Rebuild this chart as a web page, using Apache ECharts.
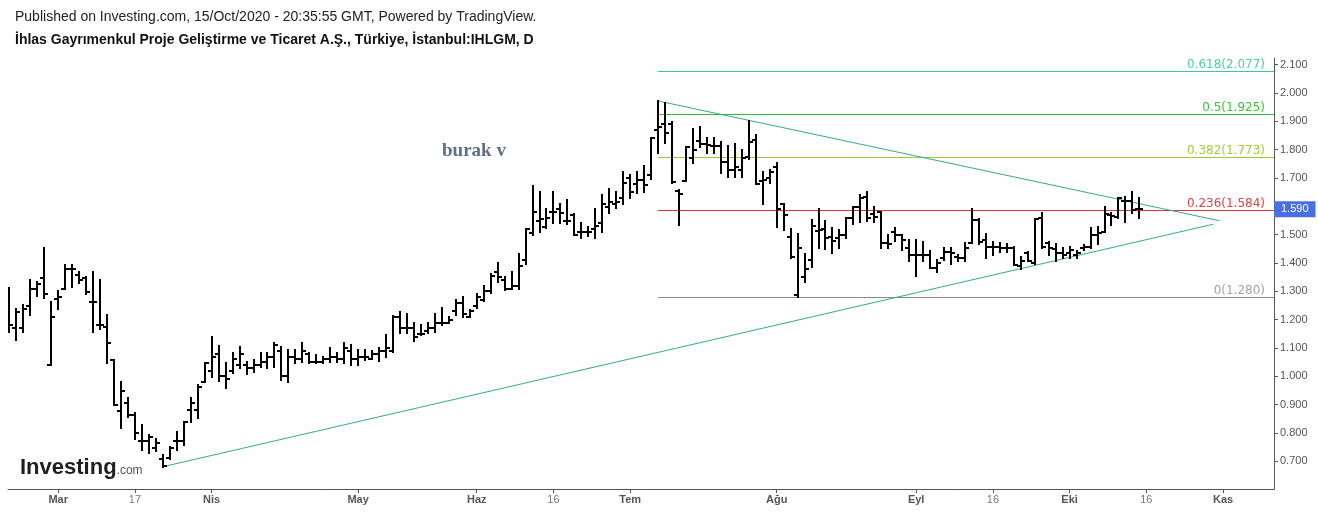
<!DOCTYPE html>
<html><head><meta charset="utf-8">
<script src="https://cdn.jsdelivr.net/npm/echarts@6/dist/echarts.min.js"></script>
<style>html,body{margin:0;padding:0;background:#fff}#c{width:1318px;height:513px}</style>
</head><body><div id="c"></div>
<script>
// ---- data ----
const dates = [
'02-20','02-21','02-24','02-25','02-26','02-27','02-28',
'03-02','03-03','03-04','03-05','03-06','03-09','03-10','03-11','03-12','03-13','03-16','03-17','03-18','03-19','03-20','03-23','03-24','03-25','03-26','03-27','03-30','03-31',
'04-01','04-02','04-03','04-06','04-07','04-08','04-09','04-10','04-13','04-14','04-15','04-16','04-17','04-20','04-21','04-22','04-24','04-27','04-28','04-29','04-30',
'05-04','05-05','05-06','05-07','05-08','05-11','05-12','05-13','05-14','05-15','05-18','05-20','05-21','05-22','05-27','05-28','05-29',
'06-01','06-02','06-03','06-04','06-05','06-08','06-09','06-10','06-11','06-12','06-15','06-16','06-17','06-18','06-19','06-22','06-23','06-24','06-25','06-26','06-29','06-30',
'07-01','07-02','07-03','07-06','07-07','07-08','07-09','07-10','07-13','07-14','07-16','07-17','07-20','07-21','07-22','07-23','07-24','07-27','07-28','07-29','07-30',
'08-04','08-05','08-06','08-07','08-10','08-11','08-12','08-13','08-14','08-17','08-18','08-19','08-20','08-21','08-24','08-25','08-26','08-27','08-28','08-31',
'09-01','09-02','09-03','09-04','09-07','09-08','09-09','09-10','09-11','09-14','09-15','09-16','09-17','09-18','09-21','09-22','09-23','09-24','09-25','09-28','09-29','09-30',
'10-01','10-02','10-05','10-06','10-07','10-08','10-09','10-12','10-13','10-14','10-15'
];
const opens = [
1.25,1.169,1.169,1.248,1.31,1.348,1.04,
1.272,1.31,1.38,1.358,1.346,1.264,1.18,1.175,1.058,0.878,0.905,0.864,0.773,0.773,0.746,0.707,0.713,0.77,0.77,0.881,0.881,0.979,
1.02,1.08,1.00,1.02,1.04,1.04,1.03,1.04,1.05,1.07,1.09,1.00,1.07,1.06,1.08,1.05,1.05,1.06,1.07,1.06,1.09,
1.06,1.07,1.06,1.08,1.09,1.09,1.21,1.17,1.17,1.15,1.16,1.17,1.19,1.19,1.23,1.26,1.21,
1.25,1.27,1.30,1.37,1.34,1.31,1.32,1.41,1.505,1.55,1.528,1.58,1.59,1.55,1.57,1.51,1.51,1.52,1.54,1.599,1.61,1.628,
1.70,1.68,1.693,1.71,1.87,1.89,1.89,1.655,1.69,1.77,1.83,1.82,1.813,1.813,1.758,1.728,1.728,1.775,1.836,1.69,1.70,
1.74,1.608,1.493,1.287,1.35,1.41,1.514,1.52,1.493,1.487,1.50,1.56,1.599,1.634,1.572,1.579,1.47,1.51,1.499,1.452,
1.428,1.428,1.428,1.381,1.419,1.44,1.422,1.419,1.469,1.552,1.481,1.458,1.458,1.452,1.454,1.39,1.434,1.40,1.56,1.47,1.45,1.434,
1.434,1.428,1.454,1.458,1.499,1.508,1.57,1.563,1.62,1.62,1.59
];
const highs = [
1.311,1.236,1.252,1.34,1.334,1.452,1.264,
1.301,1.393,1.393,1.37,1.352,1.37,1.34,1.216,1.058,0.981,0.922,0.869,0.828,0.793,0.778,0.721,0.749,0.802,0.84,0.922,0.969,1.048,
1.14,1.108,1.046,1.081,1.102,1.052,1.058,1.081,1.083,1.119,1.105,1.093,1.093,1.119,1.081,1.075,1.069,1.099,1.081,1.119,1.111,
1.093,1.093,1.09,1.10,1.146,1.213,1.228,1.22,1.187,1.181,1.19,1.22,1.24,1.211,1.269,1.281,1.234,
1.291,1.319,1.36,1.399,1.352,1.369,1.432,1.519,1.673,1.65,1.591,1.65,1.607,1.622,1.573,1.54,1.528,1.591,1.64,1.66,1.652,1.72,
1.711,1.722,1.744,1.84,1.972,1.964,1.899,1.658,1.81,1.872,1.879,1.84,1.84,1.828,1.813,1.82,1.799,1.902,1.852,1.722,1.73,
1.752,1.61,1.519,1.502,1.432,1.552,1.589,1.549,1.522,1.516,1.56,1.599,1.64,1.652,1.599,1.579,1.499,1.522,1.50,1.481,
1.481,1.475,1.442,1.41,1.454,1.454,1.428,1.469,1.59,1.555,1.501,1.475,1.47,1.466,1.458,1.422,1.44,1.555,1.575,1.475,1.466,1.454,
1.458,1.442,1.464,1.522,1.528,1.599,1.575,1.628,1.634,1.649,1.631
];
const lows = [
1.155,1.128,1.158,1.216,1.285,1.275,1.04,
1.236,1.307,1.316,1.331,1.291,1.158,1.166,1.046,0.899,0.816,0.858,0.778,0.74,0.731,0.738,0.681,0.707,0.74,0.758,0.84,0.852,0.979,
0.999,0.985,0.958,1.011,1.028,1.008,1.016,1.034,1.028,1.034,0.987,0.981,1.046,1.052,1.046,1.046,1.046,1.052,1.052,1.046,1.04,
1.04,1.058,1.06,1.055,1.07,1.086,1.154,1.154,1.126,1.146,1.154,1.158,1.181,1.189,1.217,1.208,1.208,
1.24,1.267,1.295,1.334,1.305,1.307,1.307,1.397,1.499,1.508,1.522,1.54,1.54,1.537,1.499,1.487,1.497,1.487,1.51,1.575,1.595,1.607,
1.628,1.646,1.652,1.697,1.787,1.822,1.681,1.535,1.69,1.754,1.808,1.787,1.787,1.716,1.705,1.705,1.705,1.766,1.679,1.608,1.683,
1.526,1.516,1.416,1.28,1.334,1.387,1.452,1.448,1.436,1.454,1.487,1.537,1.546,1.548,1.544,1.454,1.452,1.478,1.446,1.407,
1.355,1.407,1.381,1.367,1.41,1.395,1.407,1.407,1.469,1.466,1.417,1.428,1.44,1.44,1.393,1.379,1.407,1.395,1.454,1.428,1.407,1.419,
1.419,1.419,1.446,1.452,1.466,1.508,1.534,1.558,1.546,1.575,1.56
];
const closes = [
1.181,1.228,1.238,1.307,1.325,1.29,1.208,
1.281,1.378,1.378,1.34,1.299,1.264,1.181,1.119,0.899,0.948,0.864,0.799,0.773,0.785,0.763,0.684,0.746,0.77,0.84,0.905,0.963,1.046,
1.07,1.00,0.99,1.06,1.08,1.03,1.04,1.05,1.07,1.11,1.00,1.07,1.06,1.09,1.05,1.05,1.06,1.07,1.06,1.10,1.06,
1.07,1.07,1.08,1.09,1.10,1.21,1.17,1.17,1.14,1.15,1.17,1.19,1.19,1.20,1.26,1.22,1.23,
1.28,1.30,1.355,1.35,1.31,1.32,1.39,1.52,1.579,1.555,1.56,1.58,1.575,1.55,1.50,1.51,1.51,1.53,1.607,1.617,1.614,1.681,
1.652,1.693,1.675,1.84,1.88,1.86,1.685,1.645,1.81,1.80,1.82,1.816,1.813,1.758,1.728,1.738,1.77,1.828,1.679,1.693,1.72,
1.59,1.569,1.42,1.452,1.38,1.53,1.516,1.49,1.479,1.50,1.56,1.599,1.628,1.558,1.563,1.469,1.466,1.499,1.481,1.428,
1.43,1.428,1.384,1.399,1.44,1.434,1.417,1.454,1.552,1.475,1.458,1.458,1.454,1.452,1.393,1.407,1.407,1.555,1.458,1.452,1.434,1.428,
1.446,1.434,1.458,1.499,1.505,1.572,1.567,1.628,1.62,1.587,1.59
];
// x-axis tick positions (bar index) and labels
const tickIndex = [7, 18, 29, 50, 67, 78, 89, 110, 130, 141, 152, 163, 174];
const tickLabels = ['Mar','17','Nis','May','Haz','16','Tem','Ağu','Eyl','16','Eki','16','Kas'];
const tickIsMonth = [1,0,1,1,1,0,1,1,1,0,1,0,1];
const yTicks = [0.7,0.8,0.9,1.0,1.1,1.2,1.3,1.4,1.5,1.7,1.8,1.9,2.0,2.1];
// fibonacci retracement
const fibLevels = [0, 0.236, 0.382, 0.5, 0.618];
const fibPrices = [1.280, 1.584, 1.773, 1.925, 2.077];
const fibStartIndex = 93;
// triangle trend lines [index, price]
const upperTrend = [[93, 1.972], [173.5, 1.549]];
const lowerTrend = [[22, 0.681], [172.6, 1.537]];
const lastPrice = 1.590;

// ---- chart ----
const X_MIN = -0.2, X_MAX = 181.3;
const fibTextColors = ['#a3a3a3', '#dc4343', '#a2cc3a', '#3cc43c', '#4ccfa5'];
const fibLineColors = ['#8c8c8c', '#d63a3a', '#9acb34', '#2fbf2f', '#40c49f'];
const ohlc = dates.map((d, i) => [i, opens[i], highs[i], lows[i], closes[i]]);
const fibData = fibLevels.map((lv, k) => [lv, fibPrices[k]]);

function renderBar(params, api) {
  const i = api.value(0);
  const pO = api.coord([i, api.value(1)]);
  const pH = api.coord([i, api.value(2)]);
  const pL = api.coord([i, api.value(3)]);
  const pC = api.coord([i, api.value(4)]);
  const x = Math.round(pO[0]);
  const t = 3;
  const st = { fill: '#000' };
  const top = Math.round(pH[1]) - 1;
  const bot = Math.round(pL[1]) + 1;
  return { type: 'group', children: [
    { type: 'rect', shape: { x: x - 1, y: top, width: 2, height: Math.max(2, bot - top) }, style: st },
    { type: 'rect', shape: { x: x - 1 - t, y: Math.round(pO[1]) - 1, width: t, height: 2 }, style: st },
    { type: 'rect', shape: { x: x + 1, y: Math.round(pC[1]) - 1, width: t, height: 2 }, style: st }
  ]};
}

function renderFib(params, api) {
  const k = params.dataIndex;
  const lv = api.value(0), p = api.value(1);
  const a = api.coord([fibStartIndex, p]);
  const b = api.coord([X_MAX, p]);
  const y = Math.floor(a[1]) + 0.5;
  return { type: 'group', children: [
    { type: 'line', shape: { x1: Math.round(a[0]), y1: y, x2: Math.round(b[0]), y2: y },
      style: { stroke: fibLineColors[k], lineWidth: 1 } },
    { type: 'text', x: Math.round(b[0]) - 9, y: y - 6.5,
      style: { text: lv + '(' + p.toFixed(3) + ')', fill: fibTextColors[k],
        font: '12px "DejaVu Sans"', align: 'right', verticalAlign: 'middle' } }
  ]};
}

const chart = echarts.init(document.getElementById('c'), null, { renderer: 'canvas' });
chart.setOption({
  animation: false,
  backgroundColor: '#fff',
  grid: { left: 8, right: 44, top: 58, bottom: 24 },
  xAxis: {
    type: 'value', min: X_MIN, max: X_MAX,
    splitLine: { show: false },
    axisLine: { show: true, onZero: false, lineStyle: { color: '#555', width: 1 } },
    axisTick: { show: true, customValues: tickIndex, length: 4, lineStyle: { color: '#555' } },
    axisLabel: {
      customValues: tickIndex, margin: 5,
      formatter: v => {
        const k = tickIndex.indexOf(Math.round(v));
        if (k < 0) return '';
        return tickIsMonth[k] ? '{m|' + tickLabels[k] + '}' : '{d|' + tickLabels[k] + '}';
      },
      rich: {
        m: { fontSize: 11, fontWeight: 'bold', color: '#555', fontFamily: 'Liberation Sans' },
        d: { fontSize: 11, color: '#777', fontFamily: 'Liberation Sans' }
      }
    }
  },
  yAxis: {
    type: 'value', position: 'right', min: 0.6023, max: 2.1237,
    splitLine: { show: false },
    axisLine: { show: true, onZero: false, lineStyle: { color: '#555', width: 1 } },
    axisTick: { show: true, customValues: yTicks, length: 4, lineStyle: { color: '#555' } },
    axisLabel: { customValues: yTicks, margin: 6, formatter: v => v.toFixed(3),
      color: '#555', fontSize: 11, fontFamily: 'Liberation Sans' }
  },
  series: [
    { type: 'custom', name: 'fib', renderItem: renderFib, clip: false, silent: true,
      encode: { x: -1, y: 1 }, data: fibData, z: 2 },
    { type: 'custom', name: 'IHLGM', renderItem: renderBar, clip: true,
      encode: { x: 0, y: [1, 2, 3, 4] }, data: ohlc, z: 5 },
    { type: 'line', data: upperTrend, symbol: 'none', silent: true,
      lineStyle: { color: '#35a893', width: 1 }, z: 3 },
    { type: 'line', data: lowerTrend, symbol: 'none', silent: true,
      lineStyle: { color: '#35a893', width: 1 }, z: 3,
      markLine: { symbol: 'none', silent: true, animation: false,
        lineStyle: { color: 'rgba(0,0,0,0)', width: 1 },
        label: { show: true, position: 'end', distance: 0,
          formatter: lastPrice.toFixed(3), color: '#fff', backgroundColor: '#4a6fe0',
          padding: [3, 7, 2, 7], fontSize: 11, fontFamily: 'Liberation Sans' },
        data: [{ yAxis: lastPrice }] } }
  ],
  graphic: [
    { type: 'text', left: 15, top: 10, style: {
      text: 'Published on Investing.com, 15/Oct/2020 - 20:35:55 GMT, Powered by TradingView.',
      fill: '#222', fontSize: 14, fontFamily: 'Liberation Sans' } },
    { type: 'text', left: 15, top: 33, style: {
      text: 'İhlas Gayrımenkul Proje Geliştirme ve Ticaret A.Ş., Türkiye, İstanbul:IHLGM, D',
      fill: '#111', fontSize: 14, fontWeight: 'bold', fontFamily: 'Liberation Sans' } },
    { type: 'text', left: 442, top: 142, style: {
      text: 'burak v', fill: '#5d6f84', fontSize: 19, fontWeight: 'bold', fontFamily: 'Liberation Serif' } },
    { type: 'text', left: 20, top: 457, z: 10, style: {
      text: '{a|Investing}{b|.com}',
      rich: {
        a: { fontSize: 22, fontWeight: 'bold', fill: '#1f1f1f', fontFamily: 'Liberation Sans' },
        b: { fontSize: 12, fill: '#555', fontFamily: 'Liberation Sans', padding: [6, 0, 0, 0] }
      } } }
  ]
});
</script>
</body></html>
